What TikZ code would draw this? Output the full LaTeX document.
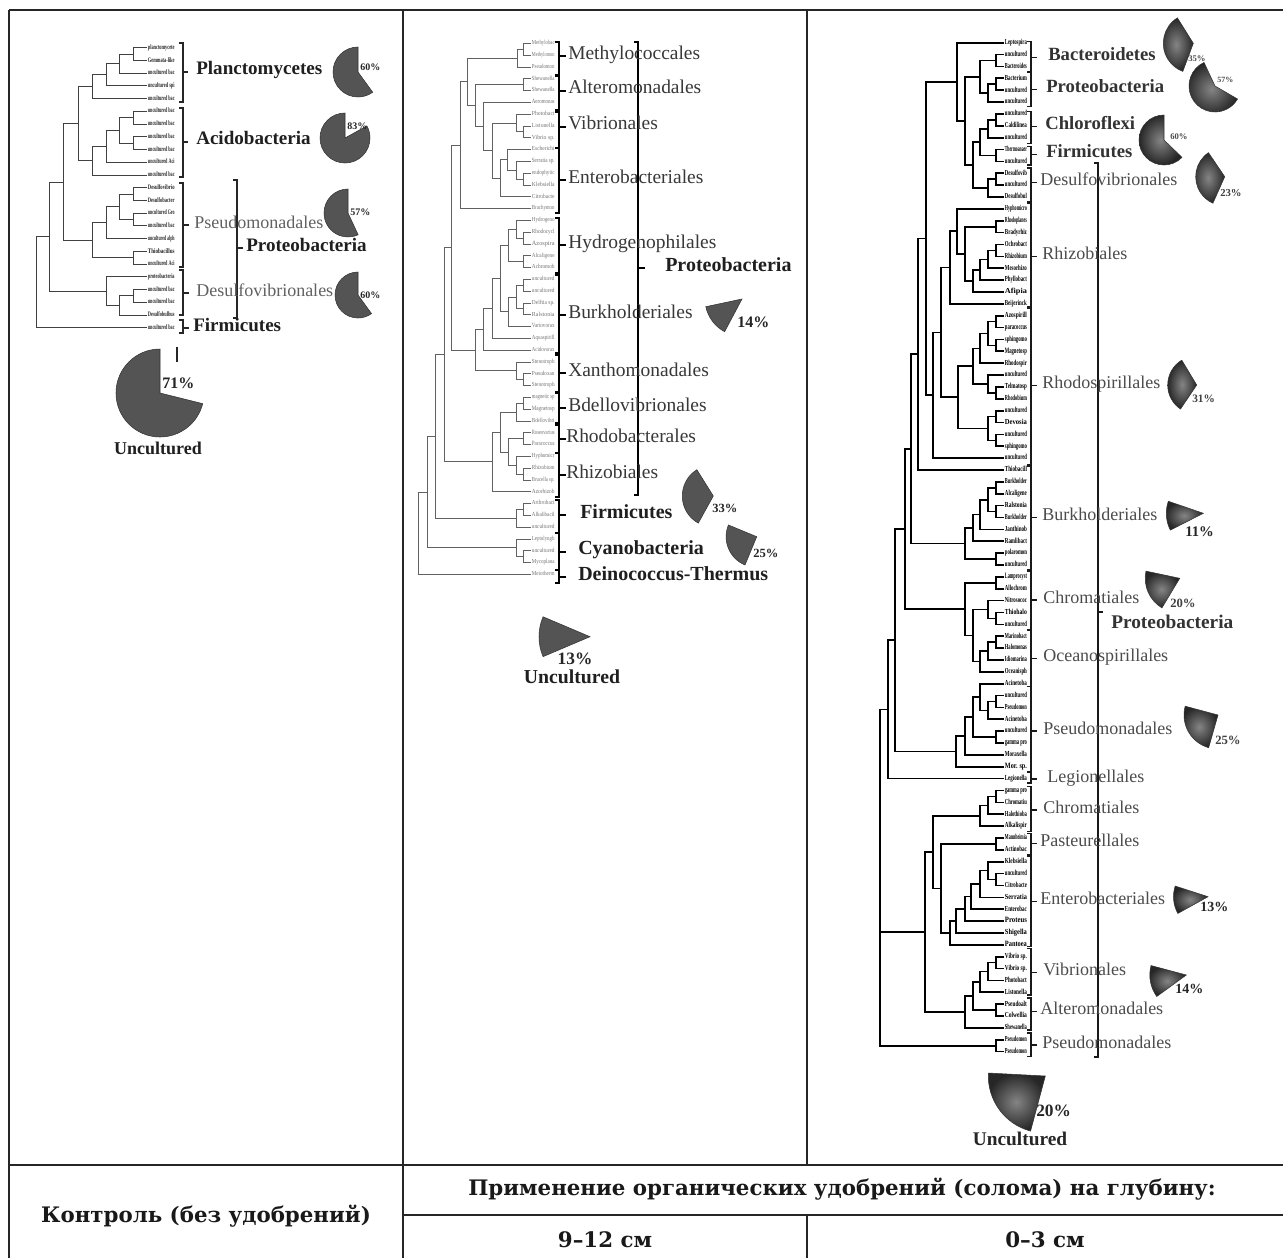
\documentclass[tikz,border=0pt]{standalone}
\usepackage{fontspec}
\setmainfont{Liberation Serif}
\newfontfamily\hdrfont{DejaVu Serif}
\usetikzlibrary{calc}
\tikzset{
  tabline/.style={line width=1.5pt, draw=black!85},
  treeA/.style={line width=0.7pt, black!75},
  treeB/.style={line width=0.55pt, black!62},
  treeC/.style={line width=1.25pt, black},
  brkA/.style={line width=1.2pt, black!85},
  brkB/.style={line width=1.3pt, black},
  brkC/.style={line width=1.1pt, black!90},
  leafA/.style={anchor=west, inner sep=0.5pt, text=black!85},
  leafB/.style={anchor=west, inner sep=0.5pt, text=black!55},
  leafC/.style={anchor=west, inner sep=0.5pt, text=black},
  grp/.style={anchor=west, inner sep=0pt, text height=0.7em, text depth=0.22em},
  grpA/.style={grp, font=\fontsize{13.5}{14}\selectfont, text=black!62},
  grpAb/.style={grp, font=\fontsize{14.3}{15}\selectfont\bfseries, text=black!88},
  grpB/.style={grp, font=\fontsize{14.6}{15}\selectfont, text=black!78},
  grpBb/.style={grp, font=\fontsize{15}{16}\selectfont\bfseries, text=black!88},
  grpC/.style={grp, font=\fontsize{13.5}{14}\selectfont, text=black!70},
  grpCb/.style={grp, font=\fontsize{14}{15}\selectfont\bfseries, text=black!80},
  pct/.style={anchor=west, inner sep=0pt, text=black!85},
  pieA/.style={fill=black!67, draw=black!80, line width=0.4pt},
  pieC/.style={shade, inner color=black!48, outer color=black!85, draw=black!80, line width=0.4pt},
  hdr/.style={font=\hdrfont\bfseries\fontsize{16}{18}\selectfont, text=black!90, inner sep=0pt}
}
% internal tree node: name, x, child1, child2
\newcommand\inode[4]{\coordinate (tmp) at ($(#3)!0.5!(#4)$);\coordinate (#1) at (#2,0|-tmp);\draw (#1) |- (#3) (#1) |- (#4);}
% group bracket: x, ytop, ybottom, ytick, ticklength
\newcommand\gbr[6][]{\draw[#1] ({#2-4},#3) -- (#2,#3) -- (#2,#4) -- ({#2-4},#4) (#2,#5) -- ++(#6,0);}
% pie wedge: centre x, centre y, radius, from angle, to angle (counter-clockwise, as seen)
\newcommand\pie[6][]{\path[#1] (#2,#3) -- ++({-(#5)}:#4) arc[start angle={-(#5)}, end angle={-(#6)}, radius=#4] -- cycle;}
\newcommand\lfA[1]{\resizebox{20pt}{3.6pt}{\bfseries #1\vphantom{Ag}}}
\newcommand\lfB[1]{\resizebox{17pt}{3.2pt}{#1\vphantom{Ag}}}
\newcommand\lfC[1]{\resizebox{16.5pt}{4pt}{\bfseries #1\vphantom{Ag}}}
\begin{document}
\begin{tikzpicture}[x=0.75pt,y=-0.75pt]
\useasboundingbox[fill=white] (0,0) rectangle (1283,1258);

% ---------------- table ----------------
\draw[tabline] (9,10) -- (1283,10);
\draw[tabline] (9,10) -- (9,1258);
\draw[tabline] (403,10) -- (403,1258);
\draw[tabline] (807,10) -- (807,1165);
\draw[tabline] (807,1215) -- (807,1258);
\draw[tabline] (9,1165) -- (1283,1165);
\draw[tabline] (403,1215) -- (1283,1215);
\node[hdr] (hK) at (206,1216) {Контроль (без удобрений)};
\node[hdr] (hP) at (842,1189) {Применение органических удобрений (солома) на глубину:};
\node[hdr] (h9) at (605,1240) {9–12 см};
\node[hdr] (h0) at (1045,1240) {0–3 см};

% ================= column 1 =================
\foreach \i in {1,...,23} \coordinate (A\i) at (147,{47.7+12.73*(\i-1)});
\begin{scope}[treeA]
\inode{uA}{133}{A1}{A2}
\inode{uB}{119}{uA}{A3}
\inode{uC}{106}{uB}{A4}
\inode{uD}{92}{uC}{A5}
\inode{uAa}{133}{A6}{A7}
\inode{uAb}{133}{A8}{A9}
\inode{uAc}{119}{uAa}{uAb}
\inode{uAd}{106}{uAc}{A10}
\inode{uAe}{92}{uAd}{A11}
\inode{uPA}{78}{uD}{uAe}
\inode{uPa}{133}{A12}{A13}
\inode{uPb}{133}{A14}{A15}
\inode{uPc}{119}{uPa}{uPb}
\inode{uPd}{106}{uPc}{A16}
\inode{uPe}{133}{A17}{A18}
\inode{uPf}{92}{uPd}{uPe}
\inode{uPAP}{63}{uPA}{uPf}
\inode{uDa}{133}{A20}{A21}
\inode{uDb}{119}{uDa}{A22}
\inode{uDc}{106}{A19}{uDb}
\inode{uQ}{49}{uPAP}{uDc}
\inode{uR}{36}{uQ}{A23}
\end{scope}
\foreach \i/\t in {1/planctomycete,2/Gemmata-like,3/uncultured bac,4/uncultured spi,5/uncultured bac,6/uncultured bac,7/uncultured bac,8/uncultured bac,9/uncultured bac,10/uncultured Aci,11/uncultured bac,12/Desulfovibrio,13/Desulfobacter,14/uncultured Gro,15/uncultured bac,16/uncultured alph,17/Thiobacillus,18/uncultured Aci,19/proteobacteria,20/uncultured bac,21/uncultured bac,22/Desulfobulbus,23/uncultured bac}
  \node[leafA] (tA\i) at (A\i) {\lfA{\t}};
\gbr[brkA]{183}{42.7}{101.7}{71.7}{5}
\gbr[brkA]{183}{108}{176.7}{141.7}{5}
\gbr[brkA]{183}{182.7}{266.7}{225}{6}
\gbr[brkA]{183}{270}{315}{293}{6}
\gbr[brkA]{183}{320}{333}{328}{6}
\gbr[brkA]{237}{180}{318}{248}{6}
\draw[brkA] (177,347) -- (177,362);
\node[grpAb] (gA1) at (196,71.7) {Planctomycetes};
\node[grpAb] (gA2) at (196,141.7) {Acidobacteria};
\node[grpA]  (gA3) at (194,225) {Pseudomonadales};
\node[grpA]  (gA4) at (196,293) {Desulfovibrionales};
\node[grpAb] (gA5) at (246,248) {Proteobacteria};
\node[grpAb] (gA6) at (193,328) {Firmicutes};
\pie[pieA]{358}{72}{25}{90}{306}
\pie[pieA]{345}{138}{25}{90}{389}
\pie[pieA]{348}{213}{24}{90}{295}
\pie[pieA]{358}{295}{23}{90}{306}
\pie[pieA]{160}{393}{44}{90}{346}
\node[pct, font=\fontsize{7.5}{8}\selectfont\bfseries] (pA1) at (360,67) {60\%};
\node[pct, font=\fontsize{7.5}{8}\selectfont\bfseries] (pA2) at (347,126) {83\%};
\node[pct, font=\fontsize{7.5}{8}\selectfont\bfseries] (pA3) at (350,212) {57\%};
\node[pct, font=\fontsize{7.5}{8}\selectfont\bfseries] (pA4) at (360,295) {60\%};
\node[pct, font=\fontsize{12}{13}\selectfont\bfseries] (pA5) at (162,383) {71\%};
\node[font=\fontsize{13.5}{14}\selectfont\bfseries, text=black!88, inner sep=0pt] (uA0) at (158,448) {Uncultured};

% ================= column 2 =================
\foreach \i in {1,...,46} \coordinate (B\i) at (531,{43.3+11.8*(\i-1)});
\begin{scope}[treeB]
\inode{vma}{523}{B1}{B2}
\inode{vmb}{517}{vma}{B3}
\inode{vmc}{523}{B4}{B5}
\inode{vmd}{523}{B8}{B9}
\inode{vme}{516}{B7}{vmd}
\inode{vmf}{523}{B12}{B13}
\inode{vmg}{516}{B11}{vmf}
\inode{vmh}{507}{B10}{vmg}
\inode{vmi}{500}{vmh}{B14}
\inode{vmj}{492}{vme}{vmi}
\inode{vmk}{483}{B6}{vmj}
\inode{vml}{475}{vmc}{vmk}
\inode{vmm}{467}{vmb}{vml}
\inode{vmn}{460}{vmm}{B15}
\inode{vha}{523}{B17}{B18}
\inode{vhb}{516}{B16}{vha}
\inode{vhc}{523}{B19}{B20}
\inode{vhd}{508}{vhb}{vhc}
\inode{vka}{523}{B21}{B22}
\inode{vkb}{523}{B23}{B24}
\inode{vkc}{516}{vka}{vkb}
\inode{vkd}{508}{vkc}{B25}
\inode{vke}{500}{vhd}{vkd}
\inode{vkf}{492}{vke}{B26}
\inode{vkg}{483}{vkf}{B27}
\inode{vxa}{523}{B29}{B30}
\inode{vxb}{516}{B28}{vxa}
\inode{vxc}{475}{vkg}{vxb}
\inode{vw}{451}{vmn}{vxc}
\inode{vaa}{523}{B31}{B32}
\inode{vab}{516}{vaa}{B33}
\inode{vac}{523}{B34}{B35}
\inode{vad}{523}{B37}{B38}
\inode{vae}{516}{B36}{vad}
\inode{vaf}{508}{vac}{vae}
\inode{vag}{500}{vab}{vaf}
\inode{vah}{492}{vag}{B39}
\inode{vz}{444}{vw}{vah}
\inode{vfa}{523}{B40}{B41}
\inode{vfb}{516}{vfa}{B42}
\inode{vy}{435}{vz}{vfb}
\inode{vca}{523}{B44}{B45}
\inode{vcb}{516}{B43}{vca}
\inode{vxx}{427}{vy}{vcb}
\inode{vroot}{418}{vxx}{B46}
\end{scope}
\foreach \i/\t in {1/Methylobac,2/Methylomon,3/Pseudomon,4/Shewanella,5/Shewanella,6/Aeromonas,7/Photobact,8/Listonella,9/Vibrio sp.,10/Escherichi,11/Serratia sp.,12/endophytic,13/Klebsiella,14/Citrobacte,15/Brachymon,16/Hydrogeno,17/Rhodocycl,18/Azospira,19/Alcaligene,20/Achromob,21/uncultured,22/uncultured,23/Delftia sp.,24/Ralstonia,25/Variovorax,26/Aquaspirill,27/Acidovorax,28/Stenotroph,29/Pseudoxan,30/Stenotroph,31/magnetic sp,32/Magnetosp,33/Bdellovibri,34/Roseovarius,35/Paracoccus,36/Hyphomicr,37/Rhizobium,38/Brucella sp.,39/Azorhizob,40/Arthrobact,41/Alkalibacil,42/uncultured,43/Leptolyngb,44/uncultured,45/Mycoplana,46/Meiotherm}
  \node[leafB] (tB\i) at (B\i) {\lfB{\t}};
\gbr[brkB]{559}{41.7}{75}{56}{7}
\gbr[brkB]{559}{76}{110}{90.7}{7}
\gbr[brkB]{559}{111.7}{148.3}{126.7}{7}
\gbr[brkB]{559}{148.3}{213.3}{180}{7}
\gbr[brkB]{559}{218}{273}{245}{7}
\gbr[brkB]{559}{275}{353}{315}{7}
\gbr[brkB]{559}{355}{391.7}{373.3}{7}
\gbr[brkB]{559}{393}{423}{408.3}{7}
\gbr[brkB]{559}{425}{453}{439.3}{7}
\gbr[brkB]{559}{453}{497}{475}{7}
\gbr[brkB]{559}{500}{533}{515}{7}
\gbr[brkB]{559}{533}{570}{551.7}{7}
\gbr[brkB]{559}{570}{583}{577}{7}
\gbr[brkB]{638}{41.7}{495}{268}{7}
\node[grpB] (gB1) at (568,56) {Methylococcales};
\node[grpB] (gB2) at (568,90.7) {Alteromonadales};
\node[grpB] (gB3) at (568,126.7) {Vibrionales};
\node[grpB] (gB4) at (568,180) {Enterobacteriales};
\node[grpB] (gB5) at (568,245) {Hydrogenophilales};
\node[grpB] (gB6) at (568,315) {Burkholderiales};
\node[grpB] (gB7) at (568,373.3) {Xanthomonadales};
\node[grpB] (gB8) at (568,408.3) {Bdellovibrionales};
\node[grpB] (gB9) at (566,439.3) {Rhodobacterales};
\node[grpB] (gB10) at (566,475) {Rhizobiales};
\node[grpBb] (gB11) at (580,515) {Firmicutes};
\node[grpBb] (gB12) at (578,551.7) {Cyanobacteria};
\node[grpBb] (gB13) at (578,577) {Deinococcus-Thermus};
\node[grpBb] (gB14) at (665,268) {Proteobacteria};
\pie[pieA]{742}{299}{37}{192}{242}
\pie[pieA]{713.3}{496}{31}{122}{241}
\pie[pieA]{756.7}{536.7}{30.6}{157.5}{247.5}
\pie[pieA]{590}{636.7}{51}{157}{203}
\node[pct, font=\fontsize{12}{13}\selectfont\bfseries] (pB1) at (737,322.7) {14\%};
\node[pct, font=\fontsize{9.4}{10}\selectfont\bfseries] (pB2) at (712,508) {33\%};
\node[pct, font=\fontsize{9.4}{10}\selectfont\bfseries] (pB3) at (753,553.3) {25\%};
\node[font=\fontsize{13}{14}\selectfont\bfseries, text=black!85, inner sep=0pt] (pB4) at (575,659) {13\%};
\node[font=\fontsize{14.8}{15}\selectfont\bfseries, text=black!88, inner sep=0pt] (uB0) at (572,677) {Uncultured};

% ================= column 3 =================
\foreach \i in {1,...,86} \coordinate (C\i) at (1004,{42.7+11.87*(\i-1)});
\begin{scope}[treeC]
\inode{wa1}{996}{C2}{C3}
\inode{wa2}{996}{C4}{C5}
\inode{wa3}{988}{wa2}{C6}
\inode{wa4}{980}{wa1}{wa3}
\inode{wc1}{996}{C7}{C8}
\inode{wc2}{988}{wc1}{C9}
\inode{wf1}{996}{C10}{C11}
\inode{wa6}{980}{wc2}{wf1}
\inode{wd1}{996}{C12}{C13}
\inode{wd2}{988}{wd1}{C14}
\inode{wa8}{973}{wa6}{wd2}
\inode{wa7}{965}{wa4}{wa8}
\inode{wa9}{957}{C1}{wa7}
\inode{wr1}{996}{C16}{C17}
\inode{wr2}{996}{C18}{C19}
\inode{wr3}{988}{wr2}{C20}
\inode{wr4}{980}{wr3}{C21}
\inode{wr5}{973}{wr4}{C22}
\inode{wr6}{965}{wr1}{wr5}
\inode{wr7}{957}{C15}{wr6}
\inode{wr8}{950}{wr7}{C23}
\inode{ws1}{996}{C24}{C25}
\inode{ws2}{996}{C26}{C27}
\inode{ws3}{988}{ws1}{ws2}
\inode{ws4}{980}{ws3}{C28}
\inode{ws5}{996}{C30}{C31}
\inode{ws6}{988}{C29}{ws5}
\inode{ws7}{973}{ws4}{ws6}
\inode{ws8}{996}{C32}{C33}
\inode{ws9}{996}{C34}{C35}
\inode{ws10}{988}{ws8}{ws9}
\inode{ws11}{958}{ws7}{ws10}
\inode{wW}{941}{wr8}{ws11}
\inode{wZ}{933}{wW}{C36}
\inode{wX}{926}{wa9}{wZ}
\inode{wt2}{918}{wX}{C37}
\inode{wb1}{996}{C38}{C39}
\inode{wb2}{996}{C40}{C41}
\inode{wb3}{988}{wb1}{wb2}
\inode{wb4}{980}{wb3}{C42}
\inode{wb5}{973}{wb4}{C43}
\inode{wb6}{996}{C44}{C45}
\inode{wb7}{965}{wb5}{wb6}
\inode{wG}{911}{wt2}{wb7}
\inode{wh1}{996}{C46}{C47}
\inode{wh2}{996}{C49}{C50}
\inode{wh3}{988}{C48}{wh2}
\inode{wo1}{996}{C51}{C52}
\inode{wo2}{988}{wo1}{C53}
\inode{wo3}{980}{wo2}{C54}
\inode{wh4}{973}{wh3}{wo3}
\inode{wH}{965}{wh1}{wh4}
\inode{wF}{905}{wG}{wH}
\inode{wp1}{996}{C56}{C57}
\inode{wp2}{988}{wp1}{C58}
\inode{wp3}{980}{C55}{wp2}
\inode{wp4}{996}{C59}{C60}
\inode{wp5}{973}{wp3}{wp4}
\inode{wp6}{965}{wp5}{C61}
\inode{wp7}{956}{wp6}{C62}
\inode{wE}{895}{wF}{wp7}
\inode{wCn}{888}{wE}{C63}
\inode{wq1}{996}{C64}{C65}
\inode{wq2}{988}{wq1}{C66}
\inode{wq3}{980}{wq2}{C67}
\inode{wq4}{996}{C68}{C69}
\inode{we1}{996}{C71}{C72}
\inode{we2}{988}{C70}{we1}
\inode{we3}{980}{we2}{C73}
\inode{we4}{971}{we3}{C74}
\inode{we5}{965}{we4}{C75}
\inode{we6}{956}{we5}{C76}
\inode{we7}{950}{we6}{C77}
\inode{wLq}{941}{wq4}{we7}
\inode{wJ}{933}{wq3}{wLq}
\inode{wv1}{996}{C78}{C79}
\inode{wv2}{988}{wv1}{C80}
\inode{wv3}{980}{wv2}{C81}
\inode{wv4}{996}{C82}{C83}
\inode{wv5}{973}{wv3}{wv4}
\inode{wK}{965}{wv5}{C84}
\inode{wD}{925}{wJ}{wK}
\inode{wps}{996}{C85}{C86}
\coordinate (tmp) at ($(wCn)!0.5!(wps)$);
\coordinate (wroot) at (880,0|-tmp);
\draw (wroot) |- (wCn) (wroot) |- (wD) (wroot) |- (wps);
\end{scope}
\foreach \i/\t in {1/Leptospira,2/uncultured,3/Bacteroides,4/Bacterium,5/uncultured,6/uncultured,7/uncultured,8/Caldilinea,9/uncultured,10/Thermoanaer,11/uncultured,12/Desulfovib,13/uncultured,14/Desulfobul,15/Hyphomicro,16/Rhodoplanes,17/Bradyrhiz,18/Ochrobact,19/Rhizobium,20/Mesorhizo,21/Phyllobact,22/Afipia,23/Beijerinck,24/Azospirill,25/paracoccus,26/sphingomo,27/Magnetosp,28/Rhodospir,29/uncultured,30/Telmatosp,31/Rhodobium,32/uncultured,33/Devosia,34/uncultured,35/sphingomo,36/uncultured,37/Thiobacill,38/Burkholder,39/Alcaligene,40/Ralstonia,41/Burkholder,42/Janthinob,43/Ramlibact,44/polaromon,45/uncultured,46/Lamprocyst,47/Allochrom,48/Nitrosococ,49/Thiohalo,50/uncultured,51/Marinobact,52/Halomonas,53/Idiomarina,54/Oceanisph,55/Acinetoba,56/uncultured,57/Pseudomon,58/Acinetoba,59/uncultured,60/gamma pro,61/Moraxella,62/Mor. sp.,63/Legionella,64/gamma pro,65/Chromatiu,66/Halothioba,67/Alkalispir,68/Mannheimia,69/Actinobac,70/Klebsiella,71/uncultured,72/Citrobacte,73/Serratia,74/Enterobac,75/Proteus,76/Shigella,77/Pantoea,78/Vibrio sp.,79/Vibrio sp.,80/Photobact,81/Listonella,82/Pseudoalt,83/Colwellia,84/Shewanella,85/Pseudomon,86/Pseudomon}
  \node[leafC] (tC\i) at (C\i) {\lfC{\t}};
\gbr[brkC]{1031}{41.7}{71.7}{57.3}{6}
\gbr[brkC]{1031}{72.7}{106.7}{89.3}{6}
\gbr[brkC]{1031}{111.7}{143.3}{126.7}{6}
\gbr[brkC]{1031}{146.7}{165}{154.3}{6}
\gbr[brkC]{1031}{168}{201.7}{182.7}{6}
\gbr[brkC]{1031}{203}{306.7}{256.7}{6}
\gbr[brkC]{1031}{308}{465}{385.7}{6}
\gbr[brkC]{1031}{466.7}{570}{517.3}{6}
\gbr[brkC]{1031}{571.7}{630}{600}{6}
\gbr[brkC]{1031}{630}{686.7}{658.3}{6}
\gbr[brkC]{1031}{686.7}{771.7}{731}{6}
\gbr[brkC]{1031}{772.7}{783}{779}{6}
\gbr[brkC]{1031}{786.7}{831.7}{810}{6}
\gbr[brkC]{1031}{833.3}{855}{843.3}{6}
\gbr[brkC]{1031}{856.7}{946.7}{901.7}{6}
\gbr[brkC]{1031}{948.3}{995}{972.3}{6}
\gbr[brkC]{1031}{998}{1030}{1011.7}{6}
\gbr[brkC]{1031}{1033}{1056.7}{1045}{6}
\gbr[brkC, line width=1.4pt]{1098}{163.3}{1056.7}{611.7}{5}
\node[grpCb] (gC1) at (1048,57.3) {Bacteroidetes};
\node[grpCb] (gC2) at (1046,89.3) {Proteobacteria};
\node[grpCb] (gC3) at (1045,126.7) {Chloroflexi};
\node[grpCb] (gC4) at (1046,154.3) {Firmicutes};
\node[grpC] (gC5) at (1040,182.7) {Desulfovibrionales};
\node[grpC] (gC6) at (1042,256.7) {Rhizobiales};
\node[grpC] (gC7) at (1042,385.7) {Rhodospirillales};
\node[grpC] (gC8) at (1042,517.3) {Burkholderiales};
\node[grpC] (gC9) at (1043,600) {Chromatiales};
\node[grpC] (gC10) at (1043,658.3) {Oceanospirillales};
\node[grpC] (gC11) at (1043,731) {Pseudomonadales};
\node[grpC] (gC12) at (1047,779) {Legionellales};
\node[grpC] (gC13) at (1043,810) {Chromatiales};
\node[grpC] (gC14) at (1040,843.3) {Pasteurellales};
\node[grpC] (gC15) at (1040,901.7) {Enterobacteriales};
\node[grpC] (gC16) at (1043,972.3) {Vibrionales};
\node[grpC] (gC17) at (1040,1011.7) {Alteromonadales};
\node[grpC] (gC18) at (1042,1045) {Pseudomonadales};
\node[grpCb, font=\fontsize{14.5}{15}\selectfont\bfseries] (gC19) at (1111,625) {Proteobacteria};
\pie[pieC]{1193.3}{43.3}{30}{122}{249.5}
\pie[pieC]{1215}{86}{26}{115}{330}
\pie[pieC]{1164}{140}{25}{90}{316}
\pie[pieC]{1224.7}{176.7}{29}{124}{246}
\pie[pieC]{1196.7}{385}{29}{121}{236}
\pie[pieC]{1203.3}{513.3}{37}{161}{207}
\pie[pieC]{1179.7}{578.3}{34.5}{168}{239}
\pie[pieC]{1218}{715}{34}{165}{254}
\pie[pieC]{1208}{896.7}{34.5}{162}{209}
\pie[pieC]{1186.3}{975}{36.5}{165}{216}
\pie[pieC]{1045.3}{1076}{57}{177}{255}
\node[pct, font=\fontsize{6.5}{7}\selectfont\bfseries, text=black!70] (pC1) at (1188,58.3) {35\%};
\node[pct, font=\fontsize{6}{7}\selectfont\bfseries, text=black!70] (pC2) at (1217,80) {57\%};
\node[pct, font=\fontsize{6.5}{7}\selectfont\bfseries, text=black!70] (pC3) at (1170,136.7) {60\%};
\node[pct, font=\fontsize{8}{9}\selectfont\bfseries, text=black!75] (pC4) at (1220,193.3) {23\%};
\node[pct, font=\fontsize{8.5}{9}\selectfont\bfseries, text=black!75] (pC5) at (1192,398.3) {31\%};
\node[pct, font=\fontsize{11}{12}\selectfont\bfseries] (pC6) at (1185,531.7) {11\%};
\node[pct, font=\fontsize{9.5}{10}\selectfont\bfseries, text=black!75] (pC7) at (1170,603.3) {20\%};
\node[pct, font=\fontsize{9.5}{10}\selectfont\bfseries, text=black!75] (pC8) at (1215,740) {25\%};
\node[pct, font=\fontsize{10.5}{11}\selectfont\bfseries] (pC9) at (1200,906.7) {13\%};
\node[pct, font=\fontsize{10.5}{11}\selectfont\bfseries] (pC10) at (1175,989.3) {14\%};
\node[pct, font=\fontsize{13}{14}\selectfont\bfseries] (pC11) at (1036,1110.7) {20\%};
\node[font=\fontsize{14.5}{15}\selectfont\bfseries, text=black!85, inner sep=0pt] (uC0) at (1020,1139.3) {Uncultured};
\end{tikzpicture}
\end{document}
